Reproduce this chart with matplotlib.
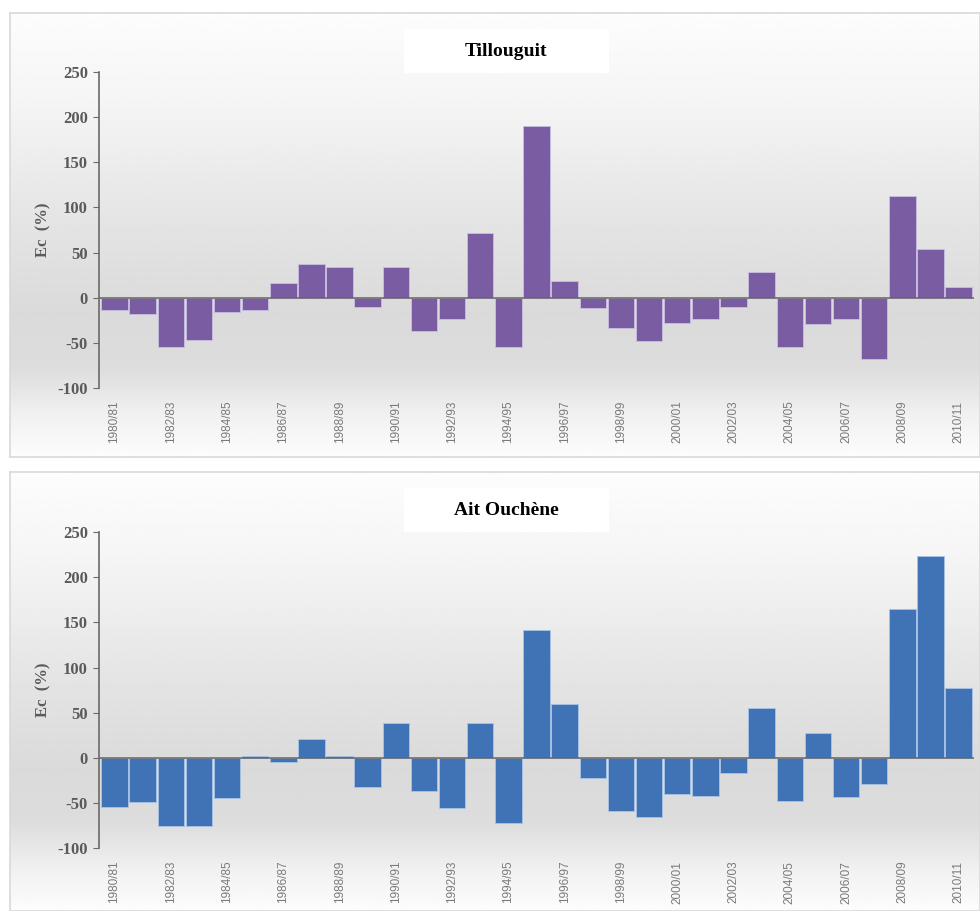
"""
Ecarts à la moyenne (Ec %) - Tillouguit et Ait Ouchène
"""
import numpy as np
import matplotlib.pyplot as plt
from matplotlib.patches import Rectangle

saisons = [f'{y}/{str(y + 1)[-2:]}' for y in range(1980, 2011)]

tillouguit = [-13, -18, -55, -47, -16, -13, 16, 37, 34, -10, 34, -37, -24, 72, -54,
              190, 19, -11, -34, -48, -28, -24, -10, 29, -55, -29, -24, -68, 113, 54, 12]
ait_ouchene = [-54, -49, -76, -76, -45, 2, -5, 21, 2, -32, 39, -37, -56, 39, -72,
               141, 60, -22, -59, -65, -40, -42, -17, 55, -48, 27, -43, -29, 165, 224, 77]

plt.rcParams['font.family'] = ['Liberation Serif', 'DejaVu Serif']
plt.rcParams['axes.unicode_minus'] = False

fig = plt.figure(figsize=(9.8, 9.11), dpi=100)

# dégradé du fond (blanc -> gris -> blanc)
grad_pts = [0.0, 0.2, 0.45, 0.68, 0.8, 0.9, 1.0]
grad_val = [0.99, 0.96, 0.9, 0.855, 0.865, 0.94, 0.99]
g = np.interp(np.linspace(0, 1, 200), grad_pts, grad_val)
grad = np.repeat(g[:, None], 2, axis=1)

panneaux = [
    ('Tillouguit', tillouguit, '#7a5ca3', '#c9bfe0',
     [0.0102, 0.4984, 0.99, 0.4874], [0.101, 0.574, 0.893, 0.347]),
    ('Ait Ouchène', ait_ouchene, '#3f73b5', '#a9c3e6',
     [0.0102, 0.0, 0.99, 0.482], [0.101, 0.069, 0.893, 0.347]),
]

for titre, vals, couleur, bord, cadre, pos in panneaux:
    bg = fig.add_axes(cadre)
    bg.imshow(grad, cmap='gray', vmin=0, vmax=1, aspect='auto', extent=[0, 1, 0, 1])
    bg.set_xlim(0, 1)
    bg.set_ylim(0, 1)
    bg.set_xticks([])
    bg.set_yticks([])
    for s in bg.spines.values():
        s.set_color('#d9d9d9')
        s.set_linewidth(1.2)
    # boîte blanche du titre
    fh = cadre[3] * 911
    bg.add_patch(Rectangle(((404 - 10) / 970, 1 - 60 / fh), 205 / 970, 44 / fh,
                           transform=bg.transAxes, facecolor='white', edgecolor='none'))
    bg.text((506 - 10) / 970, 1 - 39 / fh, titre, transform=bg.transAxes,
            ha='center', va='center', fontsize=14, fontweight='bold', color='black')

    ax = fig.add_axes(pos)
    ax.patch.set_alpha(0)
    x = np.arange(len(saisons))
    ax.bar(x, vals, width=0.94, color=couleur, edgecolor=bord, linewidth=0.6, zorder=3)
    ax.axhline(0, color='#666666', linewidth=1.1, zorder=4)
    ax.set_xlim(-0.55, len(saisons) - 0.45)
    ax.set_ylim(-100, 250)
    ax.set_yticks(range(-100, 251, 50))
    ax.set_xticks(x[::2])
    ax.set_xticklabels(saisons[::2], rotation=90, fontsize=8.5, color='#7a7a7a',
                       family=['Liberation Sans', 'DejaVu Sans'])
    ax.tick_params(axis='x', length=0, pad=9)
    ax.tick_params(axis='y', direction='out', length=4, color='#6a6a6a', labelsize=12,
                   labelcolor='#5a5a5a', pad=4)
    for lab in ax.get_yticklabels():
        lab.set_fontweight('bold')
    ax.set_ylabel('Ec  (%)', fontsize=12, fontweight='bold', color='#5a5a5a', labelpad=4)
    for s in ['top', 'right', 'bottom']:
        ax.spines[s].set_visible(False)
    ax.spines['left'].set_color('#6a6a6a')
    ax.spines['left'].set_linewidth(1.2)

plt.savefig('out.png', dpi=100)
